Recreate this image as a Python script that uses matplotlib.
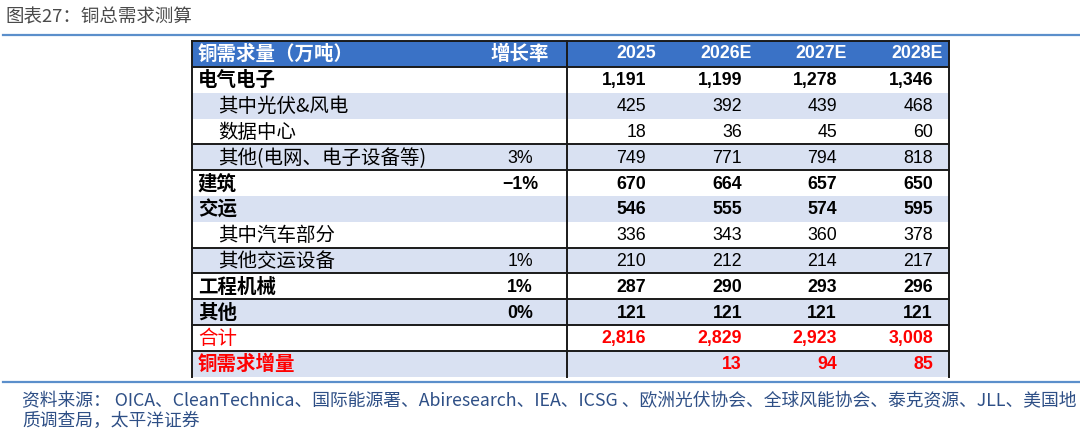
import matplotlib
matplotlib.use('Agg')
import matplotlib.pyplot as plt
from matplotlib.patches import Rectangle

plt.rcParams['font.family'] = ['Noto Sans CJK SC', 'DejaVu Sans']

# table content
title = '图表27：铜总需求测算'
header_label = '铜需求量（万吨）'
header_growth = '增长率'
years = ['2025', '2026E', '2027E', '2028E']

labels = ['电气电子', '其中光伏&风电', '数据中心', '其他(电网、电子设备等)', '建筑', '交运',
          '其中汽车部分', '其他交运设备', '工程机械', '其他', '合计', '铜需求增量']
indent = [0, 1, 1, 1, 0, 0, 1, 1, 0, 0, 0, 0]
growth = ['', '', '', '3%', '-1%', '', '', '1%', '1%', '0%', '', '']
v2025 = [1191, 425, 18, 749, 670, 546, 336, 210, 287, 121, 2816, None]
v2026 = [1199, 392, 36, 771, 664, 555, 343, 212, 290, 121, 2829, 13]
v2027 = [1278, 439, 45, 794, 657, 574, 360, 214, 293, 121, 2923, 94]
v2028 = [1346, 468, 60, 818, 650, 595, 378, 217, 296, 121, 3008, 85]
values = [v2025, v2026, v2027, v2028]

bold_rows = [0, 4, 5, 8, 9, 11]
bold_nums = [0, 4, 5, 8, 9, 10, 11]
red_rows = [10, 11]
lines_after = [0, 4, 5, 8, 9, 10, 11, 12]  # thick row separators (row boundary index)

source_1 = ('资料来源： OICA、CleanTechnica、国际能源署、Abiresearch、IEA、ICSG 、欧洲光伏协会、'
            '全球风能协会、泰克资源、JLL、美国地')
source_2 = '质调查局，太平洋证券'

# colours
head_blue = '#3A72C6'
stripe = '#D9E1F2'
red = '#FF0000'
rule_blue = '#5B8FCB'
src_col = '#2E4F86'

fig = plt.figure(figsize=(10.8, 4.34), dpi=100)
ax = fig.add_axes([0, 0, 1, 1])
ax.set_xlim(0, 1080)
ax.set_ylim(434, 0)
ax.axis('off')

# layout (pixels)
x0, x_div, x1 = 192, 567, 949
top = 41
head_h = 26
row_h = 25.8
col_right = [646, 742, 837, 933]
head_right = [656, 752, 847, 943]
growth_x = 520


def row_top(i):
    # i = 0 header, 1.. data rows
    if i == 0:
        return top
    return top + head_h + (i - 1) * row_h


# title and rules
ax.text(5, 17, title, fontsize=13.3, color='#4a4a4a', va='center', ha='left')
ax.plot([3, 1080], [35, 35], color=rule_blue, lw=1.6)
ax.plot([3, 1080], [382, 382], color=rule_blue, lw=1.6)

# header
ax.add_patch(Rectangle((x0, top), x1 - x0, head_h, color=head_blue, lw=0))
hy = top + head_h / 2
ax.text(x0 + 6, hy, header_label, fontsize=14, color='white', weight='bold', va='center')
ax.text(growth_x, hy, header_growth, fontsize=14, color='white', weight='bold',
        va='center', ha='center')
for j, y in enumerate(years):
    ax.text(head_right[j], hy, y, fontsize=12.8, color='white', weight='bold', va='center',
            ha='right', family='Liberation Sans')

# body rows
for i, lab in enumerate(labels):
    yt = row_top(i + 1)
    if i % 2 == 1:
        ax.add_patch(Rectangle((x0, yt), x1 - x0, row_h, color=stripe, lw=0))
    yc = yt + row_h / 2 + 1
    w = 'bold' if i in bold_rows else 'normal'
    wn = 'bold' if i in bold_nums else 'normal'
    c = red if i in red_rows else 'black'
    ax.text(x0 + 6 + indent[i] * 20, yc, lab, fontsize=14, weight=w, color=c, va='center')
    if growth[i]:
        ax.text(growth_x, yc, growth[i].replace('-', '\u2212'), fontsize=12.8, weight=w,
                color=c, va='center', ha='center', family='Liberation Sans')
    for j in range(4):
        v = values[j][i]
        if v is None:
            continue
        ax.text(col_right[j], yc, f'{v:,}', fontsize=12.8, weight=wn, color=c, va='center',
                ha='right', family='Liberation Sans')

# borders
bottom = row_top(len(labels) + 1)
lc = '#1a1a1a'
ax.plot([x0, x1], [top, top], color=lc, lw=1.4)
for b in lines_after:
    yb = top + head_h + (b - 1) * row_h if b > 0 else top + head_h
    ax.plot([x0, x1], [yb, yb], color=lc, lw=1.4)
for xv in (x0, x_div, x1):
    ax.plot([xv, xv], [top, bottom], color=lc, lw=1.4)

# source note
ax.text(22, 401, source_1, fontsize=12.8, color=src_col, va='center', style='italic')
ax.text(22, 421, source_2, fontsize=12.8, color=src_col, va='center', style='italic')

fig.savefig('out.png', dpi=100)
